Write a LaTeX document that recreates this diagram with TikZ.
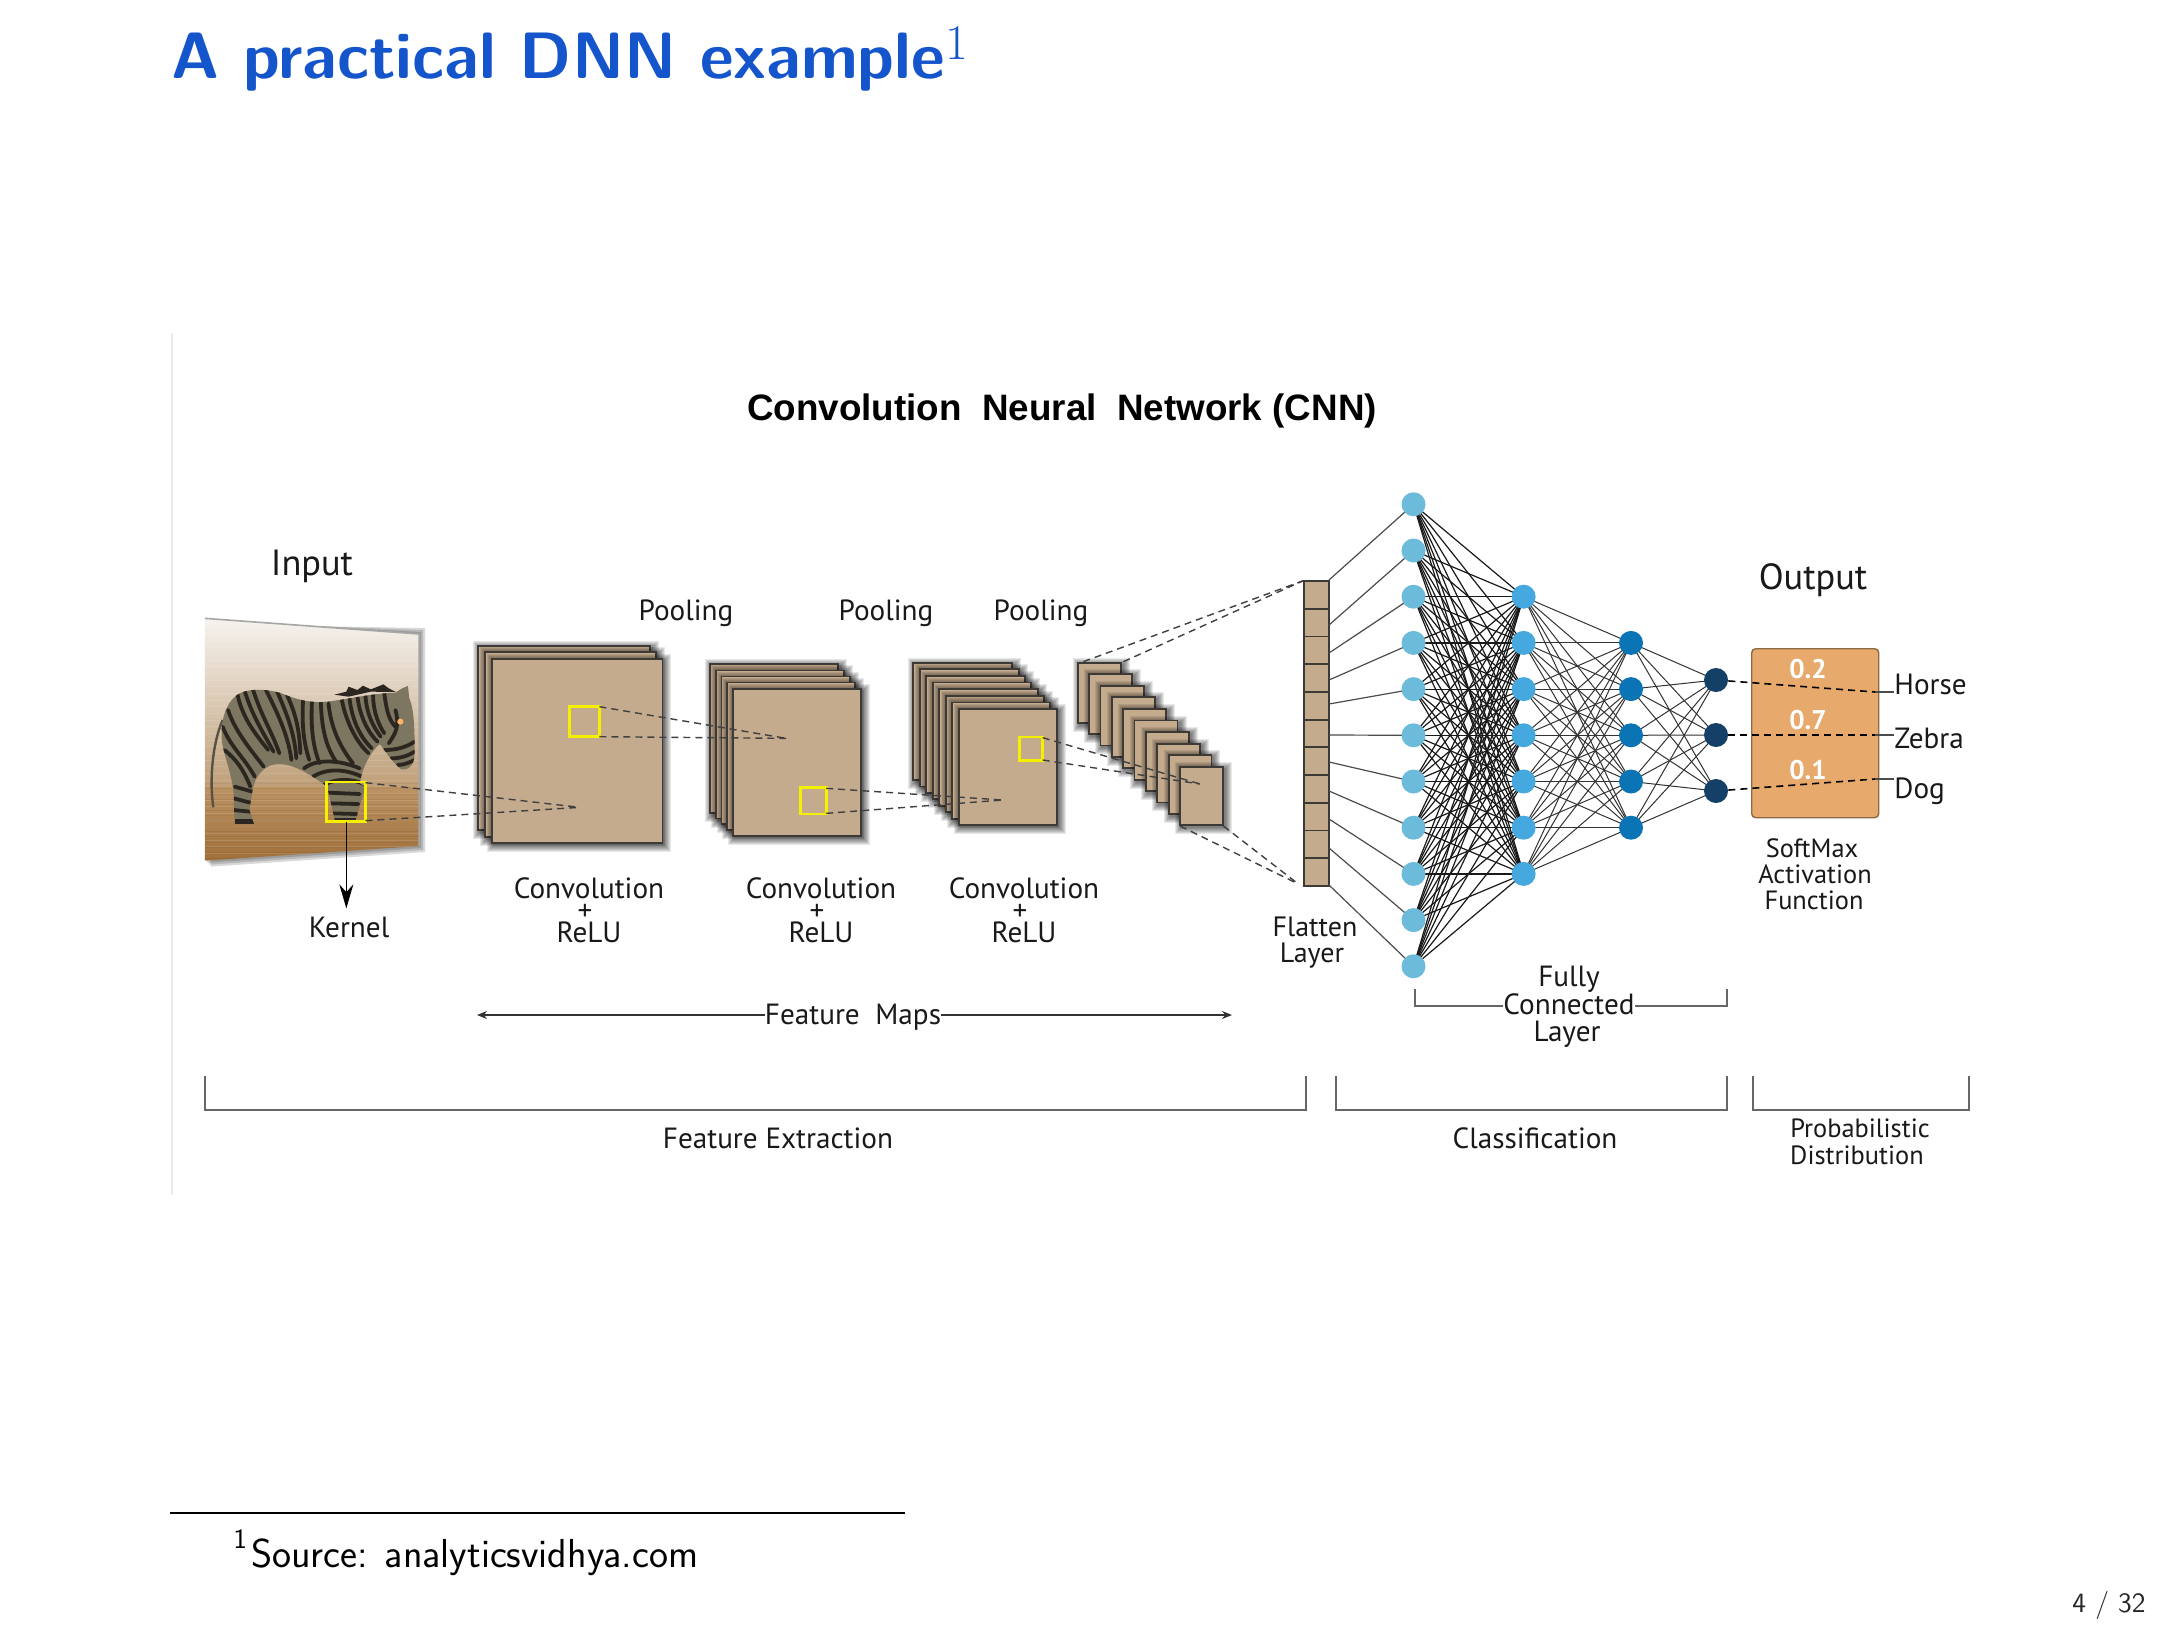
\documentclass[tikz,border=0pt]{standalone}
\usepackage{fontspec}
\newfontfamily\dgfont{PT Sans}
\newfontfamily\cnnfont{Liberation Sans}
\usetikzlibrary{arrows.meta,calc}
\definecolor{tan}{HTML}{C4AB8E}
\definecolor{edgeT}{HTML}{3D3A36}
\definecolor{titleblue}{HTML}{1555CC}
\definecolor{zeb}{HTML}{7D7660}
\definecolor{stripe}{HTML}{2B2720}
\definecolor{ky}{HTML}{F5F000}
\definecolor{softmaxfill}{HTML}{E8A96C}
\definecolor{softmaxedge}{HTML}{8B6B45}
\definecolor{layerA}{HTML}{6DBBDB}
\definecolor{layerB}{HTML}{45A9E0}
\definecolor{layerC}{HTML}{0A74B4}
\definecolor{layerD}{HTML}{143F66}
\definecolor{imgmid}{HTML}{BF9F78}
\definecolor{imglow}{HTML}{BC9364}
\definecolor{imgbot}{HTML}{A0703A}
\definecolor{imgtop}{HTML}{F6F3EF}
\tikzset{
  zoomA/.style={shift={(170,520)},x=0.22321pt,y=-0.16667pt},
  zoomB/.style={shift={(850,560)},x=0.16667pt,y=-0.16667pt},
  lab/.style={font=\dgfont\fontsize{14.6}{14.6}\selectfont,inner sep=0pt,text=black!90},
  smalllab/.style={font=\dgfont\fontsize{13.2}{13.2}\selectfont,inner sep=0pt,text=black!90},
  biglab/.style={font=\dgfont\fontsize{18.2}{18.2}\selectfont,inner sep=0pt,text=black!90},
  vallab/.style={font=\dgfont\bfseries\fontsize{13.5}{13.5}\selectfont,inner sep=0pt,text=white},
  dashln/.style={draw=black!75,line width=0.7pt,dash pattern=on 3.5pt off 2.5pt},
  edgeln/.style={draw=black!80,line width=0.5pt},
  denseln/.style={draw=black!90,line width=0.6pt},
  kernelbox/.style={draw=ky,line width=1.3pt},
  bracketline/.style={draw=black!60,line width=0.7pt},
  nn/.style={circle,minimum size=12pt,inner sep=0pt,draw=none},
  stripeline/.style={stripe,line width=1.9pt,line cap=round},
}
\newcommand\softshadow[4]{%
  \foreach \dd in {0.5,1,1.5,2,2.5,3,3.5}{%
    \fill[black,opacity=.09] ([xshift={(1-\dd)*1pt},yshift={(\dd-1)*1pt}]#1,#2) rectangle ([xshift={(1+\dd)*1pt},yshift={(-1-\dd)*1pt}]#3,#4);}%
}
\newcommand\sheet[4]{\softshadow{#1}{#2}{#3}{#4}%
  \filldraw[fill=tan,draw=edgeT,line width=0.9pt] (#1,#2) rectangle (#3,#4);}
\newcommand\zebrapath{(150,525) .. controls (170,505) and (215,505) .. (250,520)
  .. controls (285,540) and (320,550) .. (350,545) .. controls (390,540) and (450,520) .. (505,518)
  -- (520,505) -- (533,498) -- (536,535) .. controls (548,570) and (548,640) .. (548,700)
  .. controls (548,740) and (530,752) .. (518,748) .. controls (500,730) and (480,690) .. (470,672)
  .. controls (445,700) and (430,750) .. (425,790) -- (438,800) -- (415,905) -- (370,905)
  -- (352,800) .. controls (320,770) and (280,730) .. (240,732) .. controls (210,735) and (190,770) .. (185,810)
  -- (178,870) -- (188,912) -- (145,912) -- (143,850) .. controls (145,790) and (125,720) .. (120,690)
  .. controls (110,640) and (115,560) .. (150,525) -- cycle}
\begin{document}
\begin{tikzpicture}[x=0.5pt,y=-0.5pt]
\useasboundingbox (0,0) rectangle (2178,1633);
\fill[white] (0,0) rectangle (2178,1633);
% title
\node[anchor=base west,inner sep=0pt,text=titleblue,font=\sffamily\bfseries\fontsize{32.8}{40}\selectfont] (title) at (171,78) {A practical DNN example$^{1}$};
% image edge
\coordinate (eTop) at (172,333); \coordinate (eBot) at (172,1195);
\draw[black!8,line width=0.6pt] (eTop) -- (eBot);
\node[font=\cnnfont\bfseries\fontsize{18.4}{20}\selectfont,inner sep=0pt] (cnn) at (1062,411) {Convolution\ \ Neural\ \ Network (CNN)};
% input picture
\begin{scope}[zoomA]
  \foreach \dd in {1,2,3}{\fill[black,opacity=.15] ([xshift=\dd pt,yshift=-\dd pt]78,295) -- ([xshift=\dd pt,yshift=\dd pt]558,342) -- ([xshift=\dd pt,yshift=-\dd pt]558,978) -- ([xshift=\dd pt,yshift=-\dd pt]78,1022) -- cycle;}
  \begin{scope}
    \clip (78,295) -- (558,342) -- (558,978) -- (78,1022) -- cycle;
    \shade[top color=imgtop,bottom color=imgmid] (78,295) rectangle (558,800);
    \shade[top color=imglow,bottom color=imgbot] (78,800) rectangle (558,1022);
    \foreach \yy in {320,340,...,1020}{\draw[white,opacity=.12,line width=0.5pt] (78,\yy) -- (558,\yy);}
    \foreach \yy in {790,806,...,1020}{\draw[black,opacity=.06,line width=0.4pt] (78,\yy) -- (558,\yy);}
    % tail
    \draw[zeb!70!black,line width=1.2pt] (118,600) .. controls (95,670) and (88,780) .. (97,862);
    % mane
    \fill[stripe] (368,524) -- (395,515) -- (400,500) -- (420,510) -- (432,497) -- (450,508) -- (478,493) -- (490,505) -- (506,516) -- (450,515) -- (400,530) -- cycle;
    \fill[zeb] \zebrapath;
    \begin{scope}
      \clip \zebrapath;
      \foreach \pts in {
        {(150,515) .. controls (160,590) and (190,640) .. (220,690)},
        {(167,512) .. controls (185,590) and (210,640) .. (232,695)},
        {(185,505) .. controls (205,590) and (230,640) .. (245,700)},
        {(215,510) .. controls (245,590) and (265,650) .. (272,720)},
        {(240,515) .. controls (265,590) and (280,650) .. (283,715)},
        {(262,525) .. controls (285,590) and (290,640) .. (292,700)},
        {(130,570) .. controls (145,630) and (175,680) .. (210,740)},
        {(118,620) .. controls (135,680) and (165,710) .. (190,770)},
        {(122,690) .. controls (150,720) and (165,750) .. (180,800)},
        {(298,540) .. controls (295,620) and (300,670) .. (312,720)},
        {(318,545) .. controls (315,620) and (320,680) .. (335,730)},
        {(338,548) .. controls (340,630) and (350,680) .. (372,725)},
        {(355,550) .. controls (360,620) and (380,680) .. (410,730)},
        {(385,540) .. controls (395,610) and (420,670) .. (445,700)},
        {(402,535) .. controls (408,600) and (425,650) .. (452,685)},
        {(420,530) .. controls (425,590) and (445,640) .. (465,665)},
        {(438,528) .. controls (440,580) and (455,620) .. (472,650)},
        {(455,525) .. controls (455,580) and (470,620) .. (480,640)},
        {(480,520) .. controls (485,570) and (490,600) .. (505,620)},
        {(300,745) .. controls (330,715) and (380,720) .. (425,745)},
        {(320,770) .. controls (350,745) and (390,745) .. (430,770)},
        {(345,795) .. controls (370,775) and (405,775) .. (435,792)},
        {(355,818) -- (425,822)}, {(358,850) -- (422,852)}, {(362,880) -- (418,882)},
        {(145,800) -- (185,815)}, {(143,835) -- (180,848)}, {(143,870) -- (180,875)},
        {(505,570) .. controls (515,620) and (505,640) .. (490,670)},
        {(480,690) .. controls (510,690) and (530,680) .. (548,665)},
        {(495,715) .. controls (520,715) and (535,705) .. (548,695)},
        {(510,735) .. controls (525,735) and (540,725) .. (548,720)}}{
        \draw[stripeline] \pts;}
      \fill[stripe] (145,897) rectangle (188,912);
      \fill[stripe] (368,893) rectangle (416,905);
    \end{scope}
    \fill[orange!60!white] (516,605) ellipse (7 and 9);
  \end{scope}
  \draw[black!35,line width=0.8pt] (78,295) -- (558,342) -- (558,978);
  % kernel
  \coordinate (k0n) at (350,786); \coordinate (k0ne) at (438,788); \coordinate (k0se) at (438,902);
  \coordinate (k0s) at (395,905); \coordinate (k0tip) at (395,1165); \coordinate (k0t) at (918,862);
  % first stack
  \sheet{690}{377}{1075}{930}
  \sheet{705}{397}{1088}{950}
  \sheet{721}{417}{1103}{970}
  \draw[kernelbox] (350,786) rectangle (438,905);
  \draw[dashln] (k0ne) -- (k0t);
  \draw[dashln] (k0se) -- (k0t);
  \draw[-{Stealth[length=12pt,width=7pt]},black,line width=0.8pt] (k0s) -- (k0tip);
  % second stack
  \foreach \i in {0,...,4}{
    \pgfmathsetmacro\sL{1210+\i*12.75}\pgfmathsetmacro\sT{433+\i*18.25}
    \pgfmathsetmacro\sR{1497+\i*12.75}\pgfmathsetmacro\sB{878+\i*17.5}
    \sheet{\sL}{\sT}{\sR}{\sB}}
  \draw[kernelbox] (895,560) rectangle (962,650);
  \coordinate (k1ne) at (962,560); \coordinate (k1se) at (962,650); \coordinate (k1t) at (1380,655);
  \draw[dashln] (k1ne) -- (k1t);
  \draw[dashln] (k1se) -- (k1t);
\end{scope}
\begin{scope}[zoomB]
  % third stack
  \foreach \i in {0,...,7}{
    \pgfmathsetmacro\sL{190+\i*19.43}\pgfmathsetmacro\sT{308+\i*19.86}
    \pgfmathsetmacro\sR{487+\i*19}\pgfmathsetmacro\sB{660+\i*19.3}
    \sheet{\sL}{\sT}{\sR}{\sB}}
\end{scope}
\begin{scope}[zoomA]
  \draw[kernelbox] (1413,803) rectangle (1470,882);
  \coordinate (k2ne) at (1470,805); \coordinate (k2se) at (1470,880);
\end{scope}
\begin{scope}[zoomB]
  \coordinate (k2t) at (458,720);
  \draw[dashln] (k2ne) -- (k2t);
  \draw[dashln] (k2se) -- (k2t);
  \draw[kernelbox] (509,531) rectangle (578,601);
  % fourth stack
  \foreach \i in {0,...,9}{
    \pgfmathsetmacro\sL{683+\i*34.1}\pgfmathsetmacro\sT{308+\i*34.7}
    \pgfmathsetmacro\sR{813+\i*33.9}\pgfmathsetmacro\sB{488+\i*34.2}
    \sheet{\sL}{\sT}{\sR}{\sB}}
  \coordinate (k3ne) at (578,533); \coordinate (k3se) at (578,600); \coordinate (k3t) at (1050,672);
  \draw[dashln] (k3ne) -- (k3t);
  \draw[dashln] (k3se) -- (k3t);
  % flatten dashed
  \coordinate (s4a) at (700,305); \coordinate (s4b) at (820,305); \coordinate (fTop) at (1360,62);
  \coordinate (s4c) at (990,798); \coordinate (s4d) at (1120,798); \coordinate (fBot) at (1345,972);
  \draw[dashln] (s4a) -- (fTop); \draw[dashln] (s4b) -- (fTop);
  \draw[dashln] (s4c) -- (fBot); \draw[dashln] (s4d) -- (fBot);
\end{scope}
% flatten layer
\foreach \i in {0,...,10}{
  \pgfmathsetmacro\sT{581+\i*27.727}\pgfmathsetmacro\sB{581+(\i+1)*27.727}
  \filldraw[fill=tan,draw=edgeT,line width=0.9pt] (1304,\sT) rectangle (1329,\sB);}
% flatten connectors
\foreach \i/\yy in {1/580,2/625,3/653,4/680,5/704,6/735,7/762,8/791,9/819,10/848,11/885}{
  \coordinate (f\i) at (1329,\yy);}
% neurons
\foreach \i in {1,...,11}{\pgfmathsetmacro\yy{504.3+(\i-1)*46.2}\coordinate (pa\i) at (1413.5,\yy);}
\foreach \i in {1,...,7}{\pgfmathsetmacro\yy{596.7+(\i-1)*46.2}\coordinate (pb\i) at (1523.6,\yy);}
\foreach \i in {1,...,5}{\pgfmathsetmacro\yy{642.9+(\i-1)*46.2}\coordinate (pc\i) at (1631,\yy);}
\coordinate (pd1) at (1716,680); \coordinate (pd2) at (1716,735); \coordinate (pd3) at (1716,791);
\node[draw=softmaxedge,rounded corners=2pt,line width=0.7pt,minimum width=63.5pt,minimum height=84.5pt,inner sep=0pt,anchor=north west,fill=softmaxfill] (softmax) at (1751,648) {};
\foreach \i in {1,...,11}{\draw[edgeln,draw=black!70,line width=0.6pt] (f\i) -- (pa\i);}
\foreach \i in {1,...,11}\foreach \j in {1,...,7}{\draw[denseln] (pa\i) -- (pb\j);}
\foreach \i in {1,...,7}\foreach \j in {1,...,5}{\draw[edgeln] (pb\i) -- (pc\j);}
\foreach \i in {1,...,5}\foreach \j in {1,2,3}{\draw[edgeln] (pc\i) -- (pd\j);}
\foreach \i in {1,...,11}{\node[nn,fill=layerA] (a\i) at (pa\i) {};}
\foreach \i in {1,...,7}{\node[nn,fill=layerB] (b\i) at (pb\i) {};}
\foreach \i in {1,...,5}{\node[nn,fill=layerC] (c\i) at (pc\i) {};}
\foreach \i in {1,2,3}{\node[nn,fill=layerD] (d\i) at (pd\i) {};}
% output connectors
\coordinate (h1) at (1875,692); \coordinate (h2) at (1894,692);
\coordinate (z1) at (1875,735); \coordinate (z2) at (1894,735);
\coordinate (g1) at (1875,779); \coordinate (g2) at (1894,779);
\draw[dashln,draw=black,line width=.8pt] (d1) -- (h1); \draw[black!70,line width=.6pt] (h1) -- (h2);
\draw[dashln,draw=black,line width=.8pt] (d2) -- (z1); \draw[black!70,line width=.6pt] (z1) -- (z2);
\draw[dashln,draw=black,line width=.8pt] (d3) -- (g1); \draw[black!70,line width=.6pt] (g1) -- (g2);
% output values
\node[vallab] (v1) at (1808,669) {0.2};
\node[vallab] (v2) at (1808,720) {0.7};
\node[vallab] (v3) at (1808,770) {0.1};
\node[lab,anchor=west] (hL) at (1894,684) {Horse};
\node[lab,anchor=west] (zL) at (1894,738) {Zebra};
\node[lab,anchor=west] (dL) at (1894,791) {Dog};
% labels
\node[biglab] (lInput) at (312,566) {Input};
\node[biglab] (lOutput) at (1813,580) {Output};
\node[lab] (lKernel) at (349,927) {Kernel};
\foreach \n/\xx in {1/686,2/886,3/1041}{\node[lab] (pool\n) at (\xx,613) {Pooling};}
\foreach \n/\xx in {1/589,2/821,3/1024}{
  \node[lab] (conv\n) at (\xx,888) {Convolution};
  \node[lab] (plus\n) at (\xx-4,912) {+};
  \node[lab] (relu\n) at (\xx,932) {ReLU};}
\node[lab,font=\dgfont\fontsize{14}{14}\selectfont] (lFlatA) at (1315,927) {Flatten};
\node[lab,font=\dgfont\fontsize{14}{14}\selectfont] (lFlatB) at (1312,956) {Layer};
\node[smalllab] (lSoftA) at (1812,848) {SoftMax};
\node[smalllab] (lSoftB) at (1815,874) {Activation};
\node[smalllab] (lSoftC) at (1814,900) {Function};
\node[lab] (lFullyA) at (1569,979) {Fully};
\node[lab] (lFullyB) at (1569,1004) {Connected};
\node[lab] (lFullyC) at (1567,1034) {Layer};
% brackets
\coordinate (fb1) at (1415,989); \coordinate (fb2) at (1415,1006); \coordinate (fb3) at (1727,1006); \coordinate (fb4) at (1727,989);
\draw[bracketline] (fb1) -- (fb2) -- (lFullyB.west |- fb2);
\draw[bracketline] (lFullyB.east |- fb3) -- (fb3) -- (fb4);
\node[lab] (lMaps) at (853,1017) {Feature\ \ Maps};
\coordinate (mL) at (477,1015); \coordinate (mR) at (1232,1015);
\draw[-{Stealth[length=5pt,width=4pt]},black!80,line width=0.7pt] (lMaps.west |- mL) -- (mL);
\draw[-{Stealth[length=5pt,width=4pt]},black!80,line width=0.7pt] (lMaps.east |- mR) -- (mR);
\foreach \n/\xa/\xb in {A/205/1306,B/1336/1727,C/1753/1969}{
  \coordinate (br\n a) at (\xa,1076); \coordinate (br\n b) at (\xa,1110);
  \coordinate (br\n c) at (\xb,1110); \coordinate (br\n d) at (\xb,1076);
  \draw[bracketline] (br\n a) -- (br\n b) -- (br\n c) -- (br\n d);}
\node[lab] (lFE) at (778,1138) {Feature Extraction};
\node[lab] (lCl) at (1535,1138) {Classification};
\node[smalllab] (lPa) at (1860,1128) {Probabilistic};
\node[smalllab] (lPb) at (1857,1155) {Distribution};
% footnote
\coordinate (r1) at (170,1513); \coordinate (r2) at (905,1513);
\draw[black,line width=1pt] (r1) -- (r2);
\node[anchor=base west,inner sep=0pt,font=\sffamily\fontsize{20.2}{22}\selectfont] (fn) at (233,1567) {{\fontsize{14}{14}\selectfont\raisebox{9.5pt}{1}}\hspace{2pt}Source: analyticsvidhya.com};
\node[anchor=base east,inner sep=0pt,font=\sffamily\fontsize{14}{16}\selectfont,text=black!85] (pg) at (2146,1612) {4 / 32};
\end{tikzpicture}
\end{document}
